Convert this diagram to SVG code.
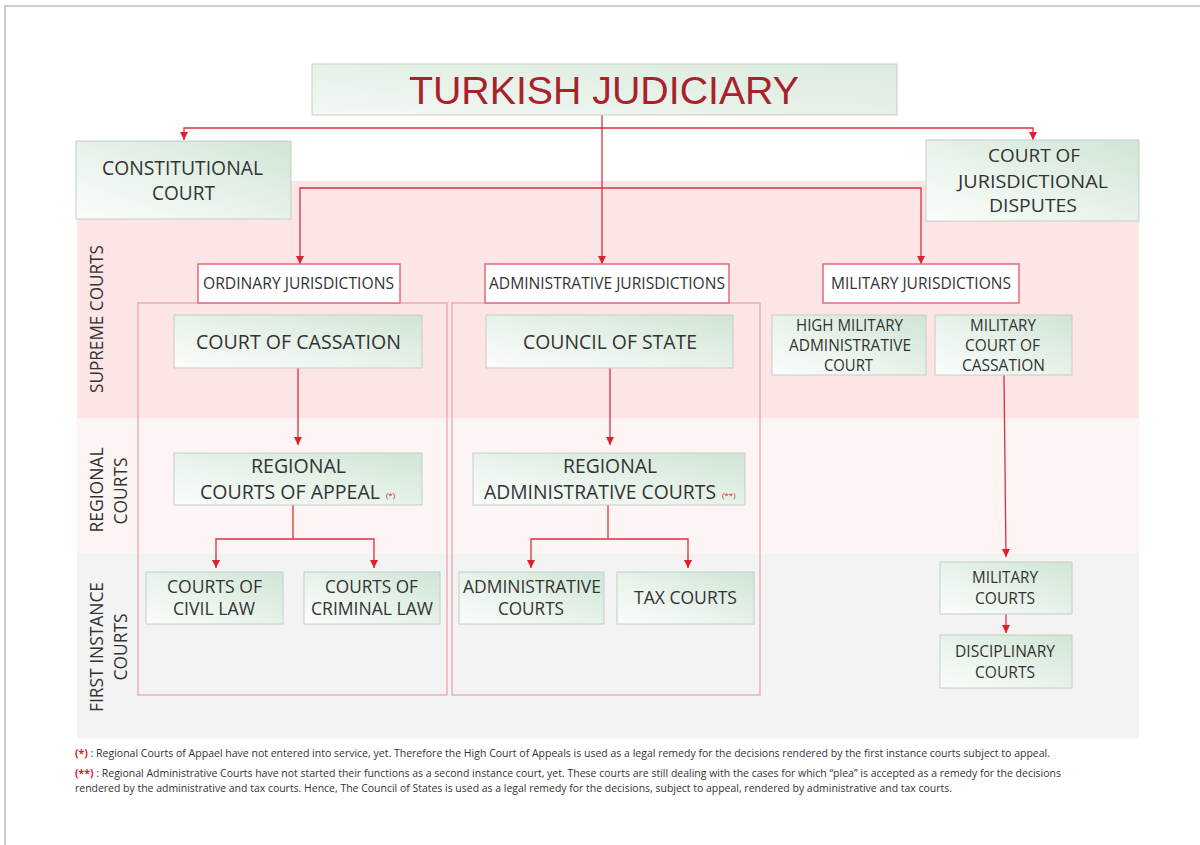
<svg xmlns="http://www.w3.org/2000/svg" width="1200" height="845" viewBox="0 0 1200 845">
<defs>
<linearGradient id="g" x1="0" y1="1" x2="1" y2="0">
<stop offset="0" stop-color="#fbfdfb"/>
<stop offset="0.45" stop-color="#e9f3eb"/>
<stop offset="1" stop-color="#cfe5d5"/>
</linearGradient>
<linearGradient id="gt" x1="0" y1="1" x2="1" y2="0">
<stop offset="0" stop-color="#f3f8f3"/>
<stop offset="0.5" stop-color="#e6f1e8"/>
<stop offset="1" stop-color="#dbebde"/>
</linearGradient>
<marker id="ah" viewBox="0 0 10 10" refX="10" refY="5" markerWidth="8" markerHeight="9" markerUnits="userSpaceOnUse" orient="auto">
<path d="M0,0 L10,5 L0,10 z" fill="#d8222e"/>
</marker>
<style>
.box{fill:url(#g);stroke:#c6cec7;stroke-width:1}
.jbox{fill:#fff;stroke:#e36b77;stroke-width:1.5}
.col{fill:none;stroke:#e9a0a7;stroke-width:1.2}
.t{font-family:"Open Sans","Liberation Sans",sans-serif;fill:#333;text-anchor:middle;}
.s20{font-size:20px}
.s18{font-size:18px}
.s16{font-size:16px}
.lab{font-family:"Open Sans","Liberation Sans",sans-serif;fill:#333;text-anchor:middle;font-size:19px}
.star{font-family:"Open Sans","Liberation Sans",sans-serif;fill:#d8222e;font-size:8px}
.conn{stroke:#d8323c;stroke-width:1.3;fill:none}
.fn{font-family:"Open Sans","Liberation Sans",sans-serif;fill:#333;font-size:10.5px}
.red{fill:#d8222e;font-weight:bold}
</style>
</defs>
<rect x="0" y="0" width="1200" height="845" fill="#fff"/>
<path d="M5,845 V6 H1200" fill="none" stroke="#bdbdbd" stroke-width="1.5"/>

<g id="bands">
<rect x="77" y="181" width="1062" height="237" fill="#fde4e5"/>
<rect x="77" y="418" width="1062" height="135" fill="#fdf4f4"/>
<rect x="77" y="553" width="1062" height="185" fill="#f3f3f3"/>
</g>

<g id="row-labels">
<text class="lab" transform="translate(103,319) rotate(-90)" textLength="148" lengthAdjust="spacingAndGlyphs">SUPREME COURTS</text>
<text class="lab" transform="translate(103,490) rotate(-90)" textLength="85" lengthAdjust="spacingAndGlyphs">REGIONAL</text>
<text class="lab" transform="translate(127,491) rotate(-90)" textLength="67" lengthAdjust="spacingAndGlyphs">COURTS</text>
<text class="lab" transform="translate(103,647) rotate(-90)" textLength="130" lengthAdjust="spacingAndGlyphs">FIRST INSTANCE</text>
<text class="lab" transform="translate(127,647) rotate(-90)" textLength="67" lengthAdjust="spacingAndGlyphs">COURTS</text>
</g>

<g id="columns">
<rect class="col" x="138" y="303" width="309" height="392"/>
<rect class="col" x="452" y="303" width="308" height="392"/>
</g>

<g id="connectors">
<path class="conn" d="M602,115 V264" marker-end="url(#ah)"/>
<path class="conn" d="M602,128 H184 V140" marker-end="url(#ah)"/>
<path class="conn" d="M602,128 H1033 V140" marker-end="url(#ah)"/>
<path class="conn" d="M602,188 H300 V264" marker-end="url(#ah)"/>
<path class="conn" d="M602,188 H921 V264" marker-end="url(#ah)"/>
<path class="conn" d="M298,368 V445" marker-end="url(#ah)"/>
<path class="conn" d="M293,505 V539"/>
<path class="conn" d="M293,539 H216 V568" marker-end="url(#ah)"/>
<path class="conn" d="M293,539 H374 V568" marker-end="url(#ah)"/>
<path class="conn" d="M610,368 V445" marker-end="url(#ah)"/>
<path class="conn" d="M608,505 V539"/>
<path class="conn" d="M608,539 H531 V568" marker-end="url(#ah)"/>
<path class="conn" d="M608,539 H688 V568" marker-end="url(#ah)"/>
<path class="conn" d="M1004,375 L1006,557" marker-end="url(#ah)"/>
<path class="conn" d="M1006,614 V633" marker-end="url(#ah)"/>
</g>

<g id="title">
<rect x="312" y="64" width="585" height="51" fill="url(#gt)" stroke="#c6cec7" stroke-width="1"/>
<text x="604" y="104" font-family="'Liberation Sans',Arial,sans-serif" font-size="38" fill="#a8222c" text-anchor="middle" textLength="390" lengthAdjust="spacingAndGlyphs">TURKISH JUDICIARY</text>
</g>

<g id="constitutional-court">
<rect class="box" x="76" y="141" width="215" height="78"/>
<text class="t s20" x="182.5" y="175" textLength="161" lengthAdjust="spacingAndGlyphs">CONSTITUTIONAL</text>
<text class="t s20" x="183.5" y="200" textLength="63" lengthAdjust="spacingAndGlyphs">COURT</text>
</g>

<g id="court-of-jurisdictional-disputes">
<rect class="box" x="926" y="140" width="213" height="81"/>
<text class="t s18" x="1034" y="162" textLength="92" lengthAdjust="spacingAndGlyphs">COURT OF</text>
<text class="t s18" x="1033" y="188" textLength="150" lengthAdjust="spacingAndGlyphs">JURISDICTIONAL</text>
<text class="t s18" x="1033" y="212" textLength="88" lengthAdjust="spacingAndGlyphs">DISPUTES</text>
</g>

<g id="ordinary-jurisdictions">
<rect class="jbox" x="198" y="264" width="202" height="39"/>
<text class="t s16" x="298.5" y="289" textLength="191" lengthAdjust="spacingAndGlyphs">ORDINARY JURISDICTIONS</text>
</g>
<g id="administrative-jurisdictions">
<rect class="jbox" x="485" y="264" width="244" height="39"/>
<text class="t s16" x="607" y="289" textLength="236" lengthAdjust="spacingAndGlyphs">ADMINISTRATIVE JURISDICTIONS</text>
</g>
<g id="military-jurisdictions">
<rect class="jbox" x="823" y="264" width="196" height="39"/>
<text class="t s16" x="921" y="289" textLength="180" lengthAdjust="spacingAndGlyphs">MILITARY JURISDICTIONS</text>
</g>

<g id="court-of-cassation">
<rect class="box" x="174" y="315" width="248" height="53"/>
<text class="t s20" x="298.5" y="349" textLength="205" lengthAdjust="spacingAndGlyphs">COURT OF CASSATION</text>
</g>
<g id="council-of-state">
<rect class="box" x="486" y="315" width="247" height="53"/>
<text class="t s20" x="610" y="349" textLength="174" lengthAdjust="spacingAndGlyphs">COUNCIL OF STATE</text>
</g>
<g id="high-military-administrative-court">
<rect class="box" x="772" y="315" width="154" height="60"/>
<text class="t s16" x="849.5" y="331" textLength="107" lengthAdjust="spacingAndGlyphs">HIGH MILITARY</text>
<text class="t s16" x="850" y="351" textLength="122" lengthAdjust="spacingAndGlyphs">ADMINISTRATIVE</text>
<text class="t s16" x="848.5" y="371" textLength="49" lengthAdjust="spacingAndGlyphs">COURT</text>
</g>
<g id="military-court-of-cassation">
<rect class="box" x="935" y="315" width="137" height="60"/>
<text class="t s16" x="1003" y="331" textLength="66" lengthAdjust="spacingAndGlyphs">MILITARY</text>
<text class="t s16" x="1002.5" y="351" textLength="75" lengthAdjust="spacingAndGlyphs">COURT OF</text>
<text class="t s16" x="1003.5" y="371" textLength="83" lengthAdjust="spacingAndGlyphs">CASSATION</text>
</g>

<g id="regional-courts-of-appeal">
<rect class="box" x="174" y="453" width="248" height="52"/>
<text class="t s20" x="298.5" y="473" textLength="95" lengthAdjust="spacingAndGlyphs">REGIONAL</text>
<text class="t s20" x="290" y="499" textLength="180" lengthAdjust="spacingAndGlyphs">COURTS OF APPEAL</text>
<text class="star" x="386" y="498">(*)</text>
</g>
<g id="regional-administrative-courts">
<rect class="box" x="473" y="453" width="272" height="52"/>
<text class="t s20" x="610" y="473" textLength="94" lengthAdjust="spacingAndGlyphs">REGIONAL</text>
<text class="t s20" x="600" y="499" textLength="232" lengthAdjust="spacingAndGlyphs">ADMINISTRATIVE COURTS</text>
<text class="star" x="722" y="498">(**)</text>
</g>

<g id="courts-of-civil-law">
<rect class="box" x="146" y="572" width="137" height="52"/>
<text class="t s18" x="214.5" y="593" textLength="95" lengthAdjust="spacingAndGlyphs">COURTS OF</text>
<text class="t s18" x="214" y="615" textLength="82" lengthAdjust="spacingAndGlyphs">CIVIL LAW</text>
</g>
<g id="courts-of-criminal-law">
<rect class="box" x="304" y="572" width="136" height="52"/>
<text class="t s18" x="371.5" y="593" textLength="93" lengthAdjust="spacingAndGlyphs">COURTS OF</text>
<text class="t s18" x="372" y="615" textLength="122" lengthAdjust="spacingAndGlyphs">CRIMINAL LAW</text>
</g>
<g id="administrative-courts">
<rect class="box" x="459" y="572" width="145" height="52"/>
<text class="t s18" x="532" y="593" textLength="138" lengthAdjust="spacingAndGlyphs">ADMINISTRATIVE</text>
<text class="t s18" x="531" y="615" textLength="66" lengthAdjust="spacingAndGlyphs">COURTS</text>
</g>
<g id="tax-courts">
<rect class="box" x="617" y="572" width="137" height="52"/>
<text class="t s18" x="685.5" y="604" textLength="103" lengthAdjust="spacingAndGlyphs">TAX COURTS</text>
</g>
<g id="military-courts">
<rect class="box" x="940" y="562" width="132" height="52"/>
<text class="t s16" x="1005" y="583" textLength="66" lengthAdjust="spacingAndGlyphs">MILITARY</text>
<text class="t s16" x="1005" y="604" textLength="60" lengthAdjust="spacingAndGlyphs">COURTS</text>
</g>
<g id="disciplinary-courts">
<rect class="box" x="940" y="635" width="132" height="53"/>
<text class="t s16" x="1005" y="657" textLength="100" lengthAdjust="spacingAndGlyphs">DISCIPLINARY</text>
<text class="t s16" x="1005" y="678" textLength="60" lengthAdjust="spacingAndGlyphs">COURTS</text>
</g>

<g id="footnotes">
<text class="fn" x="75" y="757" textLength="975" lengthAdjust="spacingAndGlyphs"><tspan class="red">(*)</tspan> : Regional Courts of Appael have not entered into service, yet. Therefore the High Court of Appeals is used as a legal remedy for the decisions rendered by the first instance courts subject to appeal.</text>
<text class="fn" x="75" y="777" textLength="986" lengthAdjust="spacingAndGlyphs"><tspan class="red">(**)</tspan> : Regional Administrative Courts have not started their functions as a second instance court, yet. These courts are still dealing with the cases for which “plea” is accepted as a remedy for the decisions</text>
<text class="fn" x="75" y="792" textLength="877" lengthAdjust="spacingAndGlyphs">rendered by the administrative and tax courts. Hence, The Council of States is used as a legal remedy for the decisions, subject to appeal, rendered by administrative and tax courts.</text>
</g>
</svg>
